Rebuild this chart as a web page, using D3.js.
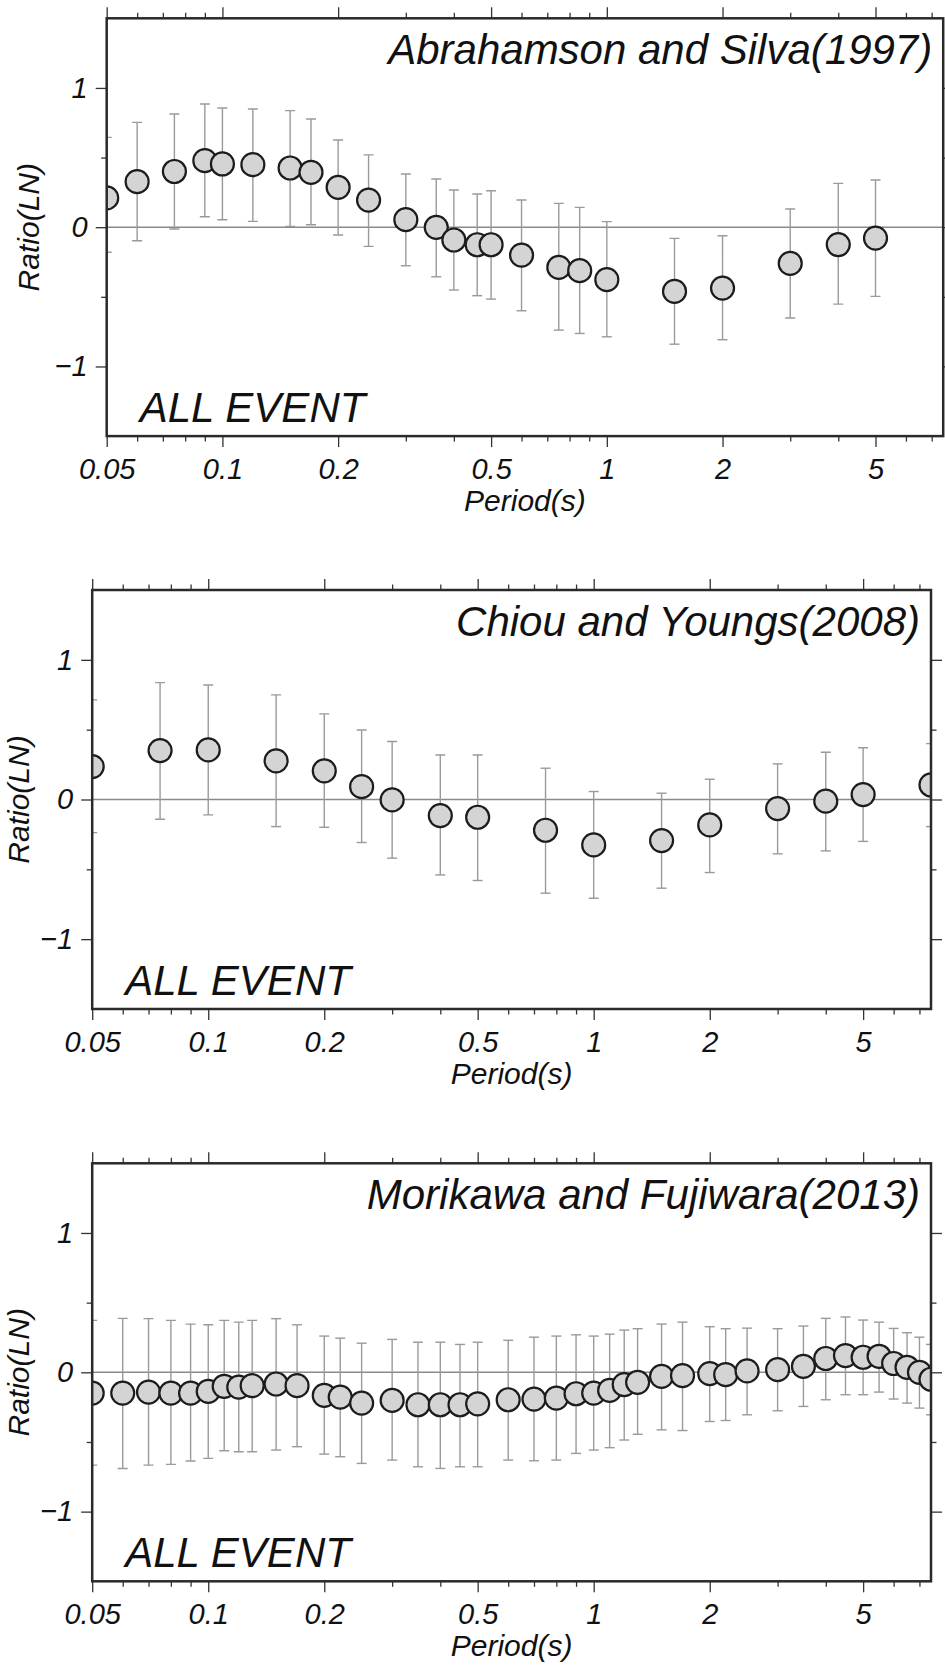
<!DOCTYPE html>
<html>
<head>
<meta charset="utf-8">
<script src="https://cdn.jsdelivr.net/npm/d3@7"></script>
<style>
  html, body { margin: 0; padding: 0; background: #fff; }
  svg { display: block; }
  text { font-family: "Liberation Sans", Arial, Helvetica, sans-serif; font-style: italic; fill: #111; }
</style>
</head>
<body>
<svg id="chart" width="945" height="1667"></svg>
<script>
// ---- axis definitions ----
const xDomain = [0.05, 7.5];
const yDomain = [-1.5, 1.5];
const xMajorTicks = [0.05, 0.1, 0.2, 0.5, 1, 2, 5];
const xMajorLabels = ["0.05", "0.1", "0.2", "0.5", "1", "2", "5"];
const xMinorTicks = [0.06, 0.07, 0.08, 0.09, 0.3, 0.4, 0.6, 0.7, 0.8, 0.9, 3, 4, 6, 7];
const yMajorTicks = [-1, 0, 1];
const yMajorLabels = ["\u22121", "0", "1"];
const yMinorTicks = [-0.5, 0.5];

const titles = ["Abrahamson and Silva(1997)", "Chiou and Youngs(2008)", "Morikawa and Fujiwara(2013)"];
const eventLabel = "ALL EVENT";
const xLabel = "Period(s)";
const yLabel = "Ratio(LN)";

// ---- Abrahamson and Silva (1997): mean ratio and error-bar ends ----
const periodAS = [0.05, 0.06, 0.075, 0.09, 0.1, 0.12, 0.15, 0.17, 0.2, 0.24, 0.3, 0.36, 0.4, 0.46, 0.5, 0.6, 0.75, 0.85, 1.0, 1.5, 2.0, 3.0, 4.0, 5.0];
const ratioAS  = [0.21, 0.327, 0.40, 0.478, 0.454, 0.449, 0.425, 0.394, 0.286, 0.195, 0.054, -0.001, -0.092, -0.126, -0.126, -0.20, -0.289, -0.312, -0.377, -0.461, -0.437, -0.26, -0.125, -0.078];
const upperAS  = [0.645, 0.753, 0.813, 0.885, 0.856, 0.849, 0.837, 0.777, 0.626, 0.519, 0.382, 0.346, 0.267, 0.238, 0.262, 0.195, 0.171, 0.142, 0.04, -0.08, -0.061, 0.131, 0.315, 0.339];
const lowerAS  = [-0.18, -0.097, -0.013, 0.075, 0.054, 0.042, 0.006, 0.018, -0.056, -0.138, -0.277, -0.356, -0.451, -0.492, -0.516, -0.60, -0.739, -0.763, -0.787, -0.84, -0.808, -0.652, -0.552, -0.497];

// ---- Chiou and Youngs (2008) ----
const periodCY = [0.05, 0.075, 0.1, 0.15, 0.2, 0.25, 0.3, 0.4, 0.5, 0.75, 1.0, 1.5, 2.0, 3.0, 4.0, 5.0, 7.5];
const ratioCY  = [0.236, 0.35, 0.355, 0.276, 0.205, 0.092, -0.003, -0.115, -0.127, -0.22, -0.325, -0.294, -0.182, -0.065, -0.012, 0.035, 0.104];
const upperCY  = [0.713, 0.837, 0.82, 0.749, 0.613, 0.498, 0.415, 0.319, 0.319, 0.224, 0.057, 0.045, 0.145, 0.255, 0.338, 0.37, 0.40];
const lowerCY  = [-0.237, -0.141, -0.11, -0.194, -0.199, -0.308, -0.42, -0.54, -0.58, -0.671, -0.707, -0.635, -0.523, -0.389, -0.368, -0.30, -0.194];

// ---- Morikawa and Fujiwara (2013) ----
const periodMF = [0.05, 0.06, 0.07, 0.08, 0.09, 0.1, 0.11, 0.12, 0.13, 0.15, 0.17, 0.2, 0.22, 0.25, 0.3, 0.35, 0.4, 0.45, 0.5, 0.6, 0.7, 0.8, 0.9, 1.0, 1.1, 1.2, 1.3, 1.5, 1.7, 2.0, 2.2, 2.5, 3.0, 3.5, 4.0, 4.5, 5.0, 5.5, 6.0, 6.5, 7.0, 7.5];
const ratioMF  = [-0.149, -0.149, -0.142, -0.149, -0.149, -0.137, -0.101, -0.106, -0.096, -0.084, -0.096, -0.166, -0.178, -0.221, -0.202, -0.233, -0.233, -0.233, -0.226, -0.197, -0.192, -0.185, -0.154, -0.149, -0.13, -0.089, -0.072, -0.029, -0.024, -0.01, -0.017, 0.01, 0.019, 0.043, 0.099, 0.12, 0.108, 0.115, 0.063, 0.036, 0.0, -0.05];
const upperMF  = [0.373, 0.387, 0.385, 0.373, 0.346, 0.341, 0.373, 0.36, 0.373, 0.385, 0.341, 0.26, 0.245, 0.209, 0.236, 0.216, 0.216, 0.20, 0.216, 0.23, 0.252, 0.26, 0.269, 0.26, 0.274, 0.303, 0.313, 0.346, 0.36, 0.327, 0.313, 0.317, 0.313, 0.332, 0.387, 0.397, 0.375, 0.36, 0.315, 0.284, 0.252, 0.20];
const lowerMF  = [-0.666, -0.69, -0.666, -0.661, -0.637, -0.618, -0.563, -0.57, -0.57, -0.558, -0.534, -0.587, -0.606, -0.654, -0.63, -0.678, -0.69, -0.678, -0.678, -0.63, -0.635, -0.63, -0.582, -0.558, -0.541, -0.486, -0.445, -0.413, -0.418, -0.353, -0.346, -0.305, -0.276, -0.245, -0.197, -0.161, -0.161, -0.142, -0.192, -0.221, -0.257, -0.305];

// ---- panel layout ----
const panels = [
  { left: 106.7, top: 18.3,   width: 836.5, height: 417.8, period: periodAS, ratio: ratioAS, upper: upperAS, lower: lowerAS, title: titles[0] },
  { left: 92.2,  top: 590.0,  width: 838.8, height: 419.0, period: periodCY, ratio: ratioCY, upper: upperCY, lower: lowerCY, title: titles[1] },
  { left: 92.2,  top: 1163.3, width: 838.8, height: 418.0, period: periodMF, ratio: ratioMF, upper: upperMF, lower: lowerMF, title: titles[2] }
];

const svg = d3.select("#chart");
svg.append("rect").attr("width", 945).attr("height", 1667).attr("fill", "#fff");

const TICK_MAJOR = 11, TICK_MINOR = 5.5;
const tickColor = "#333";

function styleAxis(g, fontSize) {
  g.select(".domain").remove();
  g.selectAll(".tick line").attr("stroke", tickColor).attr("stroke-width", 1.3);
  g.selectAll(".tick text").attr("font-size", fontSize).style("fill", "#111");
}

panels.forEach((p, k) => {
  const x = d3.scaleLog().domain(xDomain).range([0, p.width]);
  const y = d3.scaleLinear().domain(yDomain).range([p.height, 0]);

  const g = svg.append("g").attr("transform", `translate(${p.left},${p.top})`);

  const clipId = "plot-clip-" + k;
  g.append("clipPath").attr("id", clipId)
    .append("rect").attr("x", 0).attr("y", 0).attr("width", p.width).attr("height", p.height);

  // bottom axis (annotated)
  g.append("g").attr("transform", `translate(0,${p.height})`)
    .call(d3.axisBottom(x).tickValues(xMajorTicks).tickFormat((d, i) => xMajorLabels[i])
      .tickSize(TICK_MAJOR).tickPadding(11))
    .call(a => styleAxis(a, 29));
  g.append("g").attr("transform", `translate(0,${p.height})`)
    .call(d3.axisBottom(x).tickValues(xMinorTicks).tickFormat("").tickSize(TICK_MINOR))
    .call(a => styleAxis(a, 0));
  // top axis (ticks only)
  g.append("g")
    .call(d3.axisTop(x).tickValues(xMajorTicks).tickFormat("").tickSize(TICK_MAJOR))
    .call(a => styleAxis(a, 0));
  g.append("g")
    .call(d3.axisTop(x).tickValues(xMinorTicks).tickFormat("").tickSize(TICK_MINOR))
    .call(a => styleAxis(a, 0));

  // left axis (annotated)
  g.append("g")
    .call(d3.axisLeft(y).tickValues(yMajorTicks).tickFormat((d, i) => yMajorLabels[i])
      .tickSize(TICK_MAJOR).tickPadding(8))
    .call(a => styleAxis(a, 29));
  g.append("g")
    .call(d3.axisLeft(y).tickValues(yMinorTicks).tickFormat("").tickSize(TICK_MINOR))
    .call(a => styleAxis(a, 0));
  // right axis (ticks only)
  g.append("g").attr("transform", `translate(${p.width},0)`)
    .call(d3.axisRight(y).tickValues(yMajorTicks).tickFormat("").tickSize(TICK_MAJOR))
    .call(a => styleAxis(a, 0));
  g.append("g").attr("transform", `translate(${p.width},0)`)
    .call(d3.axisRight(y).tickValues(yMinorTicks).tickFormat("").tickSize(TICK_MINOR))
    .call(a => styleAxis(a, 0));

  const plot = g.append("g").attr("clip-path", `url(#${clipId})`);

  // zero reference line
  plot.append("line")
    .attr("x1", 0).attr("x2", p.width)
    .attr("y1", y(0)).attr("y2", y(0))
    .attr("stroke", "#8a8a8a").attr("stroke-width", 1.4);

  const rows = p.period.map((t, i) => ({ t, v: p.ratio[i], hi: p.upper[i], lo: p.lower[i] }));

  // error bars
  const bars = plot.append("g").attr("stroke", "#9a9a9a").attr("stroke-width", 1.4).attr("fill", "none");
  bars.selectAll("line.stem").data(rows).join("line").attr("class", "stem")
    .attr("x1", d => x(d.t)).attr("x2", d => x(d.t))
    .attr("y1", d => y(d.hi)).attr("y2", d => y(d.lo));
  bars.selectAll("line.cap-hi").data(rows).join("line").attr("class", "cap-hi")
    .attr("x1", d => x(d.t) - 5).attr("x2", d => x(d.t) + 5)
    .attr("y1", d => y(d.hi)).attr("y2", d => y(d.hi));
  bars.selectAll("line.cap-lo").data(rows).join("line").attr("class", "cap-lo")
    .attr("x1", d => x(d.t) - 5).attr("x2", d => x(d.t) + 5)
    .attr("y1", d => y(d.lo)).attr("y2", d => y(d.lo));

  // mean ratio markers
  plot.append("g").selectAll("circle").data(rows).join("circle")
    .attr("cx", d => x(d.t)).attr("cy", d => y(d.v)).attr("r", 11.5)
    .attr("fill", "#d4d4d4").attr("stroke", "#1c1c1c").attr("stroke-width", 2.2);

  // frame
  g.append("rect").attr("x", 0).attr("y", 0).attr("width", p.width).attr("height", p.height)
    .attr("fill", "none").attr("stroke", "#2a2a2a").attr("stroke-width", 2.5);

  // model name
  g.append("text").attr("x", p.width - 11).attr("y", 46)
    .attr("text-anchor", "end").attr("font-size", 42).text(p.title);

  // event set label
  g.append("text").attr("x", 33).attr("y", p.height - 14)
    .attr("font-size", 42).text(eventLabel);

  // axis titles
  g.append("text").attr("x", p.width / 2).attr("y", p.height + 75)
    .attr("text-anchor", "middle").attr("font-size", 30).text(xLabel);
  const yOff = Math.min(68, p.left - 29);
  g.append("text")
    .attr("transform", `translate(${-yOff},${p.height / 2}) rotate(-90)`)
    .attr("text-anchor", "middle").attr("font-size", 30).text(yLabel);
});
</script>
</body>
</html>
